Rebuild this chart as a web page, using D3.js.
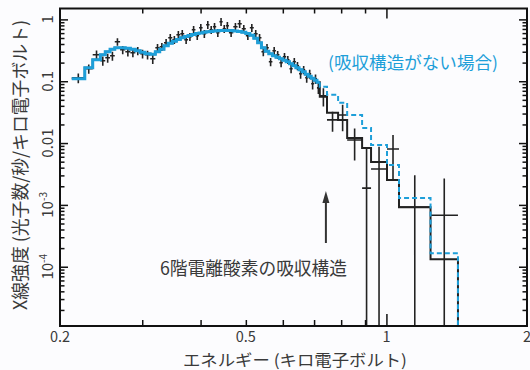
<!DOCTYPE html>
<html>
<head>
<meta charset="utf-8">
<script src="https://cdn.jsdelivr.net/npm/d3@7"></script>
<style>
  html, body { margin: 0; padding: 0; background: #fcfcfe; }
  svg { display: block; }
</style>
</head>
<body>
<svg id="chart" width="530" height="370"></svg>
<script>
// Energy bin edges (keV)
const binEdges = [
  0.212, 0.226, 0.235, 0.244, 0.250, 0.256, 0.262, 0.269, 0.276, 0.283, 0.290, 0.297, 0.304, 0.312,
  0.320, 0.327, 0.334, 0.341, 0.348, 0.355, 0.362, 0.369, 0.376, 0.383, 0.390, 0.397, 0.404, 0.411,
  0.418, 0.425, 0.432, 0.439, 0.446, 0.453, 0.460,
  0.47, 0.48, 0.49, 0.50, 0.51, 0.52, 0.53, 0.54, 0.55, 0.56, 0.57, 0.58, 0.59, 0.60, 0.61, 0.62,
  0.63, 0.64, 0.65, 0.66, 0.67, 0.68, 0.69, 0.70, 0.71, 0.72,
  0.746, 0.788, 0.824, 0.887, 0.927, 1.003, 1.064, 1.243, 1.423
];

// Observed count rate per bin (counts/s/keV) and 1-sigma errors
const obsRate = [
  0.1131, 0.1589, 0.2679, 0.2141, 0.2394, 0.2580, 0.4351, 0.3228, 0.2996, 0.2886, 0.3110, 0.2780, 0.2679, 0.2307,
  0.3477, 0.3609, 0.4192, 0.5051, 0.4688, 0.5649, 0.5864, 0.4688, 0.5243, 0.6808, 0.5443, 0.7336, 0.5864, 0.8205,
  0.6808, 0.7615, 0.6087, 0.9178, 0.7069, 0.7904,
  0.6087, 0.7615, 0.8518, 0.7069, 0.5443, 0.7336, 0.5864, 0.5051, 0.2996, 0.3477, 0.2063, 0.3110, 0.2679, 0.1987,
  0.2486, 0.2222, 0.1589, 0.2063, 0.1777, 0.1318, 0.1530, 0.1135, 0.1318, 0.0908, 0.1094, 0.0782,
  0.0580, 0.0237, 0.0285, 0.0112, 0.00187, 0.0038, 0.0080, 0.00092, 0.00068
];
const obsErr = [
  0.020, 0.027, 0.045, 0.036, 0.040, 0.043, 0.060, 0.050, 0.048, 0.045, 0.048, 0.045, 0.043, 0.040,
  0.052, 0.054, 0.063, 0.076, 0.070, 0.085, 0.088, 0.070, 0.079, 0.102, 0.082, 0.110, 0.088, 0.123,
  0.102, 0.114, 0.091, 0.138, 0.106, 0.119,
  0.091, 0.114, 0.128, 0.106, 0.082, 0.110, 0.088, 0.076, 0.045, 0.052, 0.031, 0.047, 0.040, 0.030,
  0.037, 0.033, 0.024, 0.031, 0.027, 0.022, 0.023, 0.019, 0.022, 0.017, 0.019, 0.016,
  0.019, 0.0085, 0.013, 0.006, 0.0065, 0.0049, 0.0055, 0.0021, 0.0020
];

// Best-fit model with the O VI absorption feature
const modelAbsorbed = [
  0.1094, 0.1649, 0.2222, 0.2679, 0.2996, 0.3289, 0.3477, 0.3477, 0.3413, 0.3289, 0.3110, 0.2940, 0.2780, 0.2729,
  0.2996, 0.3289, 0.3748, 0.4114, 0.4432, 0.4724, 0.5051, 0.5283, 0.5483, 0.5691, 0.5886, 0.6041, 0.6178, 0.6295,
  0.6390, 0.6462, 0.6534, 0.6584, 0.6608, 0.6608,
  0.6584, 0.6510, 0.6366, 0.6178, 0.5908, 0.5545, 0.4958, 0.4192, 0.3477, 0.3052, 0.2780, 0.2580, 0.2439, 0.2307,
  0.2182, 0.2063, 0.1914, 0.1777, 0.1649, 0.1530, 0.1420, 0.1294, 0.1201, 0.1114, 0.1034, 0.0960,
  0.0559, 0.0308, 0.0237, 0.0121, 0.00833, 0.00494, 0.00252, 0.00092, 0.000132
];
// Same model without the absorption structure
const modelNoAbsorption = [
  0.1094, 0.1649, 0.2222, 0.2679, 0.2996, 0.3289, 0.3477, 0.3477, 0.3413, 0.3289, 0.3110, 0.2940, 0.2780, 0.2729,
  0.2996, 0.3289, 0.3748, 0.4114, 0.4432, 0.4724, 0.5051, 0.5283, 0.5483, 0.5691, 0.5886, 0.6041, 0.6178, 0.6295,
  0.6390, 0.6462, 0.6534, 0.6584, 0.6608, 0.6608,
  0.6584, 0.6510, 0.6366, 0.6178, 0.5908, 0.5545, 0.4958, 0.4192, 0.3477, 0.3052, 0.2780, 0.2580, 0.2439, 0.2307,
  0.2182, 0.2063, 0.1914, 0.1777, 0.1649, 0.1530, 0.1420, 0.1294, 0.1201, 0.1114, 0.1034, 0.0960,
  0.0811, 0.0602, 0.0447, 0.0285, 0.0176, 0.0093, 0.0044, 0.00129, 0.000165
];
// Energy where the solid model curve ends and the dashed extrapolation starts
const solidEnd = 0.72;

const xTickLabels = [0.2, 0.5, 1, 2];
const xMinorTicks = [0.3, 0.4, 0.5, 0.6, 0.7, 0.8, 0.9];
const xMajorTicks = [1];
const yTickValues = [1, 0.1, 0.01, 1e-3, 1e-4];
const yTickLabels = [["1"], ["0.1"], ["0.01"], ["10", "-3"], ["10", "-4"]];
const yMinorTicks = [];
[1e-5, 1e-4, 1e-3, 1e-2, 1e-1].forEach(p => [2, 3, 4, 5, 6, 7, 8, 9].forEach(k => yMinorTicks.push(k * p)));

const arrowEnergy = 0.742;
const labelAbsorption = "6階電離酸素の吸収構造";
const labelNoAbsorption = "(吸収構造がない場合)";
const xTitle = "エネルギー (キロ電子ボルト)";
const yTitle = "X線強度 (光子数/秒/キロ電子ボルト)";

const blue = "#1e9fd9";
const ink = "#222";
const textColor = "#3a3a3a";
const font = "'Noto Sans CJK JP', 'Noto Sans', sans-serif";

const svg = d3.select("#chart");
const plot = { left: 60, right: 527, top: 8.5, bottom: 326 };

const x = d3.scaleLog().domain([0.2, 2]).range([plot.left, plot.right]);
const y = d3.scaleLog().domain([1.1e-5, 1.5]).range([plot.bottom, plot.top]);
const yFloor = y.domain()[0];

svg.append("defs").append("clipPath").attr("id", "plotClip")
  .append("rect")
  .attr("x", plot.left).attr("y", plot.top)
  .attr("width", plot.right - plot.left).attr("height", plot.bottom - plot.top);

const g = svg.append("g").attr("clip-path", "url(#plotClip)");

const step = d3.line().x(d => x(d[0])).y(d => y(d[1])).curve(d3.curveStepAfter);

// Absorbed model: full histogram, dropping to the axis at the last edge
const n = obsRate.length;
const absPts = [];
for (let i = 0; i < n; i++) absPts.push([binEdges[i], modelAbsorbed[i]]);
absPts.push([binEdges[n], modelAbsorbed[n - 1]]);
absPts.push([binEdges[n], yFloor]);
g.append("path").attr("d", step(absPts))
  .attr("fill", "none").attr("stroke", ink).attr("stroke-width", 2);

// Data points with error bars
const crosses = g.append("g").attr("stroke", ink).attr("stroke-width", 1.6);
for (let i = 0; i < n; i++) {
  const lo = obsRate[i] - obsErr[i];
  const hi = obsRate[i] + obsErr[i];
  const xm = Math.sqrt(binEdges[i] * binEdges[i + 1]);
  crosses.append("line")
    .attr("x1", x(binEdges[i])).attr("x2", x(binEdges[i + 1]))
    .attr("y1", y(obsRate[i])).attr("y2", y(obsRate[i]));
  crosses.append("line")
    .attr("x1", x(xm)).attr("x2", x(xm))
    .attr("y1", y(hi)).attr("y2", lo > 0 ? y(lo) : plot.bottom + 2);
}

// Unabsorbed model: solid over the fitted band, dashed beyond
const iSplit = binEdges.indexOf(solidEnd);
const solidPts = [];
for (let i = 0; i < iSplit; i++) solidPts.push([binEdges[i], modelNoAbsorption[i]]);
solidPts.push([binEdges[iSplit], modelNoAbsorption[iSplit - 1]]);
g.append("path").attr("d", step(solidPts))
  .attr("fill", "none").attr("stroke", blue).attr("stroke-width", 3);

const dashPts = [[binEdges[iSplit], modelNoAbsorption[iSplit - 1]]];
for (let i = iSplit; i < n; i++) dashPts.push([binEdges[i], modelNoAbsorption[i]]);
dashPts.push([binEdges[n], modelNoAbsorption[n - 1]]);
dashPts.push([binEdges[n], yFloor]);
g.append("path").attr("d", step(dashPts))
  .attr("fill", "none").attr("stroke", blue).attr("stroke-width", 2)
  .attr("stroke-dasharray", "5,3");

// Inward ticks on all four sides
function ticks(axisFn, scale, values, size, translate) {
  const a = svg.append("g").attr("transform", translate)
    .call(axisFn(scale).tickValues(values).tickSize(size).tickFormat(""));
  a.select(".domain").remove();
  a.selectAll("line").attr("stroke", "#111").attr("stroke-width", 1.5);
}
const yMinorIn = yMinorTicks.filter(v => v >= y.domain()[0] && v <= y.domain()[1]);
ticks(d3.axisLeft, y, yTickValues, -8, `translate(${plot.left},0)`);
ticks(d3.axisLeft, y, yMinorIn, -4.5, `translate(${plot.left},0)`);
ticks(d3.axisRight, y, yTickValues, -8, `translate(${plot.right},0)`);
ticks(d3.axisRight, y, yMinorIn, -4.5, `translate(${plot.right},0)`);
ticks(d3.axisBottom, x, xMinorTicks, -6, `translate(0,${plot.bottom})`);
ticks(d3.axisBottom, x, xMajorTicks, -12, `translate(0,${plot.bottom})`);
ticks(d3.axisTop, x, xMinorTicks, -5, `translate(0,${plot.top})`);
ticks(d3.axisTop, x, xMajorTicks, -10, `translate(0,${plot.top})`);

// Frame
svg.append("rect")
  .attr("x", plot.left).attr("y", plot.top)
  .attr("width", plot.right - plot.left).attr("height", plot.bottom - plot.top)
  .attr("fill", "none").attr("stroke", "#111").attr("stroke-width", 2);

// Tick labels
svg.append("g").selectAll("text").data(xTickLabels).join("text")
  .attr("x", d => x(d)).attr("y", 342)
  .attr("text-anchor", "middle")
  .attr("font-family", font).attr("font-size", 14.5).attr("fill", textColor)
  .text(d => d);

yTickValues.forEach((v, i) => {
  const t = svg.append("text")
    .attr("transform", `translate(53,${y(v)}) rotate(-90)`)
    .attr("text-anchor", "middle")
    .attr("font-family", font).attr("font-size", 15).attr("fill", textColor);
  const parts = yTickLabels[i];
  t.append("tspan").text(parts[0]);
  if (parts.length > 1) {
    t.append("tspan").attr("dy", -6).attr("font-size", 10).text(parts[1]);
  }
});

// Axis titles
svg.append("text")
  .attr("x", 295).attr("y", 365.5)
  .attr("text-anchor", "middle")
  .attr("font-family", font).attr("font-size", 16).attr("fill", textColor)
  .attr("textLength", 224).attr("lengthAdjust", "spacingAndGlyphs")
  .text(xTitle);

svg.append("text")
  .attr("transform", "translate(27,165) rotate(-90)")
  .attr("text-anchor", "middle")
  .attr("font-family", font).attr("font-size", 18).attr("fill", textColor)
  .attr("textLength", 290).attr("lengthAdjust", "spacingAndGlyphs")
  .text(yTitle);

// Annotations
svg.append("text")
  .attr("x", 328).attr("y", 69)
  .attr("font-family", font).attr("font-size", 17).attr("fill", blue)
  .attr("textLength", 170).attr("lengthAdjust", "spacingAndGlyphs")
  .text(labelNoAbsorption);

svg.append("text")
  .attr("x", 160).attr("y", 275)
  .attr("font-family", font).attr("font-size", 18).attr("fill", textColor)
  .attr("textLength", 187).attr("lengthAdjust", "spacingAndGlyphs")
  .text(labelAbsorption);

const ax = x(arrowEnergy);
svg.append("line")
  .attr("x1", ax).attr("x2", ax).attr("y1", 243).attr("y2", 200)
  .attr("stroke", "#333").attr("stroke-width", 2);
svg.append("path")
  .attr("d", `M${ax},191 L${ax - 3.5},203 L${ax + 3.5},203 Z`)
  .attr("fill", "#333");
</script>
</body>
</html>
